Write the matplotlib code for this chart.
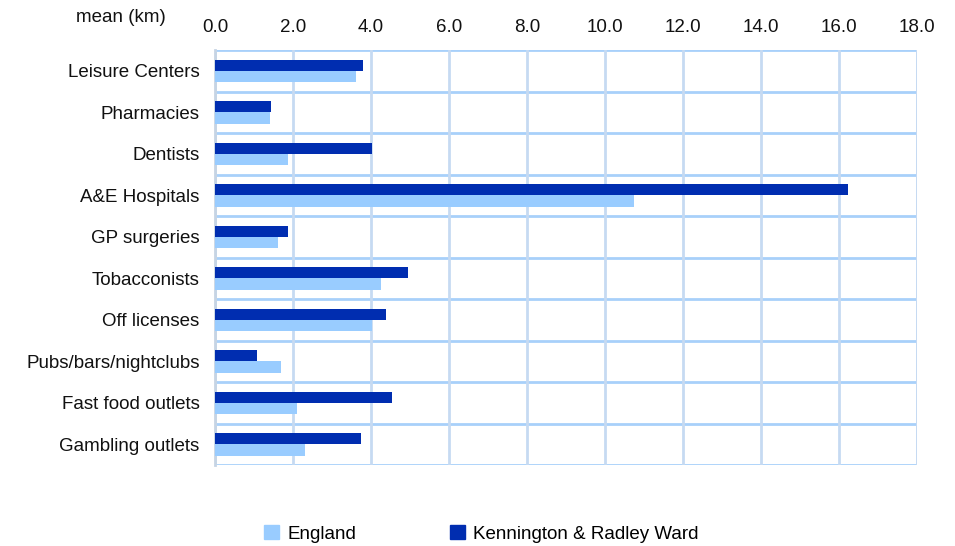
import matplotlib.pyplot as plt
import numpy as np
from matplotlib.patches import Patch

plt.rcParams["font.family"] = ["Liberation Sans", "DejaVu Sans"]

categories = ["Leisure Centers", "Pharmacies", "Dentists", "A&E Hospitals",
              "GP surgeries", "Tobacconists", "Off licenses",
              "Pubs/bars/nightclubs", "Fast food outlets", "Gambling outlets"]
england = [3.63, 1.41, 1.87, 10.74, 1.61, 4.27, 4.04, 1.69, 2.10, 2.30]
kennington = [3.81, 1.43, 4.02, 16.24, 1.87, 4.94, 4.40, 1.07, 4.53, 3.76]
x_ticks = np.arange(0, 18.1, 2.0)

ENG_COLOR = "#99CCFF"
KEN_COLOR = "#002DB0"
FS = 13.5

fig = plt.figure(figsize=(9.55, 5.46), dpi=100)
ax = fig.add_axes([0.225, 0.148, 0.735, 0.76])

y = np.arange(len(categories))
h = 0.27
ax.barh(y - h / 2, kennington, height=h, color=KEN_COLOR, zorder=3)
ax.barh(y + h / 2, england, height=h, color=ENG_COLOR, zorder=3)

ax.set_xlim(0, 18)
ax.set_ylim(len(categories) - 0.5, -0.5)
ax.set_xticks(x_ticks)
ax.set_xticklabels([f"{v:.1f}" for v in x_ticks], fontsize=FS)
ax.xaxis.tick_top()
ax.tick_params(axis="x", length=0, pad=10, colors="#111111")
ax.set_yticks(y)
ax.set_yticklabels(categories, fontsize=FS)
ax.tick_params(axis="y", length=0, pad=11, colors="#111111")

ax.grid(axis="x", color="#C6DAF2", linewidth=2, zorder=0)
for b in np.arange(-0.5, len(categories), 1.0):
    ax.axhline(b, color="#A8D0FA", linewidth=2, zorder=1)
for s in ["top", "bottom", "right"]:
    ax.spines[s].set_visible(False)
ax.spines["left"].set_color("#C6D4E4")
ax.spines["left"].set_linewidth(2)
ax.axvline(18, color="#C6DAF2", linewidth=2, zorder=1)

fig.text(0.127, 0.968, "mean (km)", fontsize=FS, ha="center", va="center",
         color="#111111")

handles = [Patch(color=ENG_COLOR, label="England"),
           Patch(color=KEN_COLOR, label="Kennington & Radley Ward")]
fig.legend(handles=handles, loc="center", bbox_to_anchor=(0.504, 0.022), ncol=2,
           frameon=False, fontsize=FS, handlelength=0.8, handleheight=0.8,
           handletextpad=0.45, columnspacing=5.0)

fig.savefig("out.png", dpi=100)
